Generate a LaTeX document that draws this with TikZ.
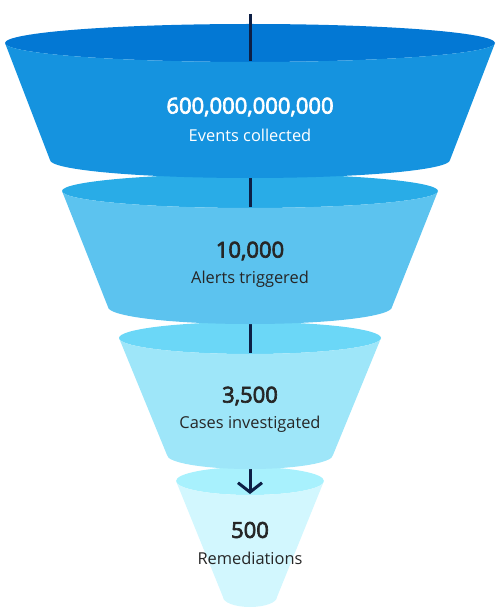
\documentclass[tikz,border=0pt]{standalone}
\usepackage{fontspec}
\setmainfont{Open Sans}
\newfontfamily\numfont{Open Sans}[FakeBold=3]
\usetikzlibrary{arrows.meta}

\definecolor{lidA}{HTML}{0378D4}
\definecolor{bodyA}{HTML}{1593DF}
\definecolor{lidB}{HTML}{29ACE7}
\definecolor{bodyB}{HTML}{5CC3EF}
\definecolor{lidC}{HTML}{6BD7F7}
\definecolor{bodyC}{HTML}{9EE6F9}
\definecolor{lidD}{HTML}{A8F1FD}
\definecolor{bodyD}{HTML}{D2F7FE}
\definecolor{flowline}{HTML}{0D1F45}
\definecolor{darktext}{HTML}{262626}

\tikzset{
  flow/.style={line width=2.25pt, draw=flowline},
  flowarrow/.style={flow, -{Straight Barb[length=7pt,width=18pt]}},
  num/.style={font=\fontsize{16.5}{18}\numfont, inner sep=0pt},
  lbl/.style={font=\fontsize{12.3}{14}\selectfont, inner sep=0pt},
}

% #1 name, #2 top y, #3/#4 top radii, #5 bottom y, #6/#7 bottom radii,
% #8 line style, #9 line start
\newcommand{\myFunnelPart}[9]{
\coordinate (#1top) at (250,#2);
\coordinate (#1lt) at (250-#3,#2);
\coordinate (#1rt) at (250+#3,#2);
\coordinate (#1lb) at (250-#6,#5);
\coordinate (#1in) at (250,#9);
\coordinate (#1front) at (250,#2+#4-1);
\fill[lid#1] (#1top) ellipse[x radius=#3, y radius=#4];
\draw[#8] (#1in) -- (#1front);
\fill[body#1] (#1lt) -- (#1lb)
  arc[start angle=180, end angle=0, x radius=#6, y radius=#7] -- (#1rt)
  arc[start angle=0, end angle=180, x radius=#3, y radius=#4] -- cycle;
}
\newcommand{\myCaption}[5]{
\node[num, text=#5] (#1num) at (250,#2) {#3};
\node[lbl, text=#5] (#1lbl) at (250,#2+28) {#4};
}

\begin{document}
\begin{tikzpicture}[x=0.75pt, y=-0.75pt]
	\useasboundingbox (0,0) rectangle (500,613);

	\myFunnelPart{D}{481}{74}{14}{597}{27}{10}{flowarrow}{469}
	\myFunnelPart{C}{338}{131}{16}{455}{83}{14}{flow}{322}
	\myFunnelPart{B}{191}{188}{17}{307}{142}{17}{flow}{175}
	\myFunnelPart{A}{43}{245}{19}{160}{200}{18}{flow}{14}

	\myCaption{A}{107}{600,000,000,000}{Events collected}{white}
	\myCaption{B}{251}{10,000}{Alerts triggered}{darktext}
	\myCaption{C}{396}{3,500}{Cases investigated}{darktext}
	\myCaption{D}{530}{500}{Remediations}{darktext}
\end{tikzpicture}
\end{document}
